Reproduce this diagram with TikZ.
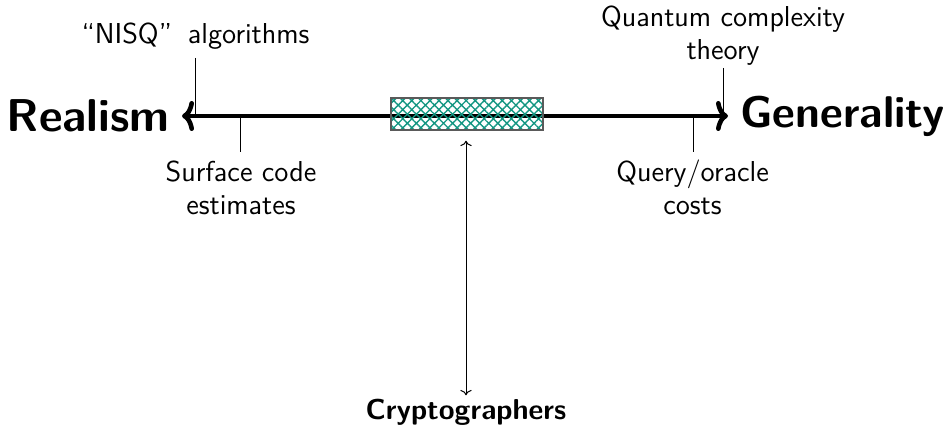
\documentclass[tikz,border=0pt]{standalone}
\usetikzlibrary{arrows.meta,patterns.meta}
\definecolor{hatchc}{RGB}{20,150,130}
\definecolor{boxgray}{RGB}{90,90,90}
\begin{document}
\begin{tikzpicture}[x=0.5pt,y=-0.5pt,
  lbl/.style={font=\fontsize{14.4}{16.5}\selectfont\sffamily,align=center,inner sep=0pt},
  big/.style={font=\sffamily\bfseries,inner sep=6pt},
  axis/.style={line width=2.3pt,{Computer Modern Rightarrow[length=6pt,width=15pt,line cap=round,line join=round]}-{Computer Modern Rightarrow[length=6pt,width=15pt,line cap=round,line join=round]}},
  tick/.style={line width=0.5pt},
  hatchbox/.style={draw=boxgray,line width=0.6pt,minimum width=76pt,minimum height=16pt,inner sep=0pt,
    pattern={Hatch[angle=45,distance=3.2pt,line width=0.7pt]},pattern color=hatchc}]
\useasboundingbox (0,0) rectangle (952,431);
\node[big,anchor=east] (realism) at (182,116) {\fontsize{23}{27}\selectfont Realism};
\node[big,anchor=west] (generality) at (728,116) {\fontsize{22.2}{27}\selectfont Generality};
\draw[axis] (realism) -- (generality);
\node[hatchbox] (box) at (467,114) {};
\node[lbl,anchor=base] (nisq) at (195.5,44) {``NISQ''\hspace{0.55em}algorithms};
\node[lbl,anchor=base] (qct) at (723,60) {Quantum complexity\\theory};
\node[lbl,anchor=base] (surf) at (241,215) {Surface code\\estimates};
\node[lbl,anchor=base] (query) at (692.5,215) {Query/oracle\\costs};
\node[font=\fontsize{14.4}{16.5}\selectfont\sffamily\bfseries,anchor=base,inner sep=2pt] (crypto) at (466,420) {Cryptographers};
\coordinate (n1) at (195,58); \coordinate (n2) at (195,116);
\coordinate (q1) at (723,68); \coordinate (q2) at (723,116);
\coordinate (s1) at (240,116); \coordinate (s2) at (240,152);
\coordinate (o1) at (693,116); \coordinate (o2) at (693,152);
\draw[tick] (n1) -- (n2);
\draw[tick] (q1) -- (q2);
\draw[tick] (s1) -- (s2);
\draw[tick] (o1) -- (o2);
\draw[line width=0.5pt,<->,shorten <=5pt] (box.south -| crypto.north) -- (crypto.north);
\end{tikzpicture}
\end{document}
